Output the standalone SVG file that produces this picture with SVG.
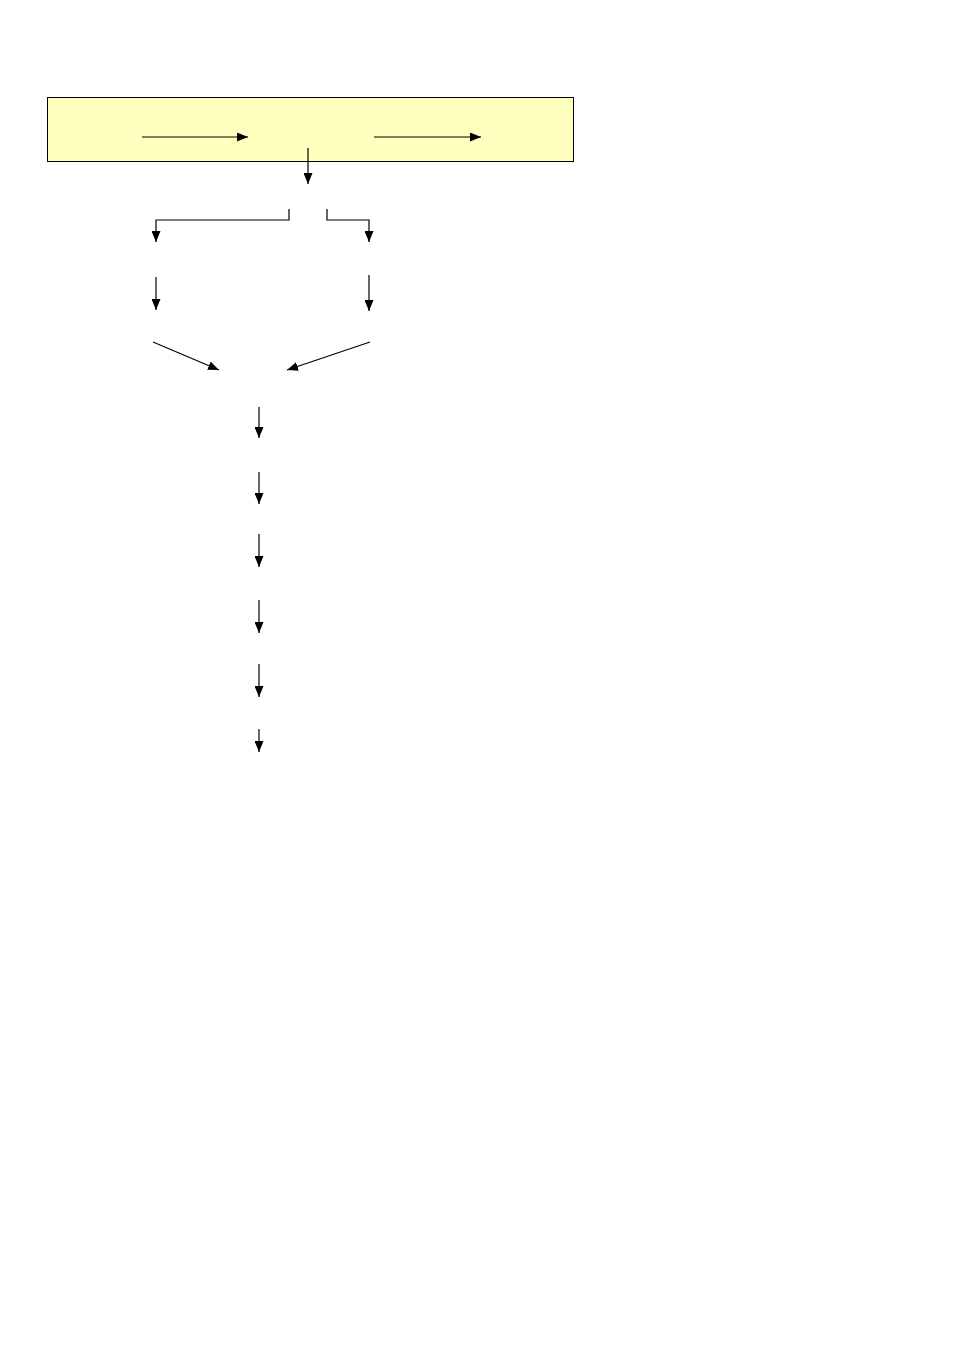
<svg xmlns="http://www.w3.org/2000/svg" width="954" height="1351" viewBox="0 0 954 1351">
<style>
.c{fill:none;stroke:#000;stroke-width:1.2}
.box{fill:#FFFFC0;stroke:#000;stroke-width:1}
</style>
<defs>
<marker id="ah" viewBox="0 0 11 9" refX="11" refY="4.5" markerWidth="11" markerHeight="9" markerUnits="userSpaceOnUse" orient="auto">
<path d="M0,0 L11,4.5 L0,9 z" fill="#000"/>
</marker>
</defs>
<rect width="954" height="1351" fill="#fff"/>
<g id="node-box">
<rect class="box" x="47.5" y="97.5" width="526" height="64"/>
</g>
<g id="connectors">
<path class="c" d="M142,137 H248" marker-end="url(#ah)"/>
<path class="c" d="M374,137 H481" marker-end="url(#ah)"/>
<path class="c" d="M308,148 V184" marker-end="url(#ah)"/>
<path class="c" d="M289,209 V220 H156 V242" marker-end="url(#ah)"/>
<path class="c" d="M327,209 V220 H369 V242" marker-end="url(#ah)"/>
<path class="c" d="M156,277 V310" marker-end="url(#ah)"/>
<path class="c" d="M369,275 V311" marker-end="url(#ah)"/>
<path class="c" d="M153,342 L219,370" marker-end="url(#ah)"/>
<path class="c" d="M370,342 L287,370" marker-end="url(#ah)"/>
<path class="c" d="M259,407 V438" marker-end="url(#ah)"/>
<path class="c" d="M259,472 V504" marker-end="url(#ah)"/>
<path class="c" d="M259,534 V567" marker-end="url(#ah)"/>
<path class="c" d="M259,600 V633" marker-end="url(#ah)"/>
<path class="c" d="M259,664 V697" marker-end="url(#ah)"/>
<path class="c" d="M259,729 V752" marker-end="url(#ah)"/>
</g>
</svg>
